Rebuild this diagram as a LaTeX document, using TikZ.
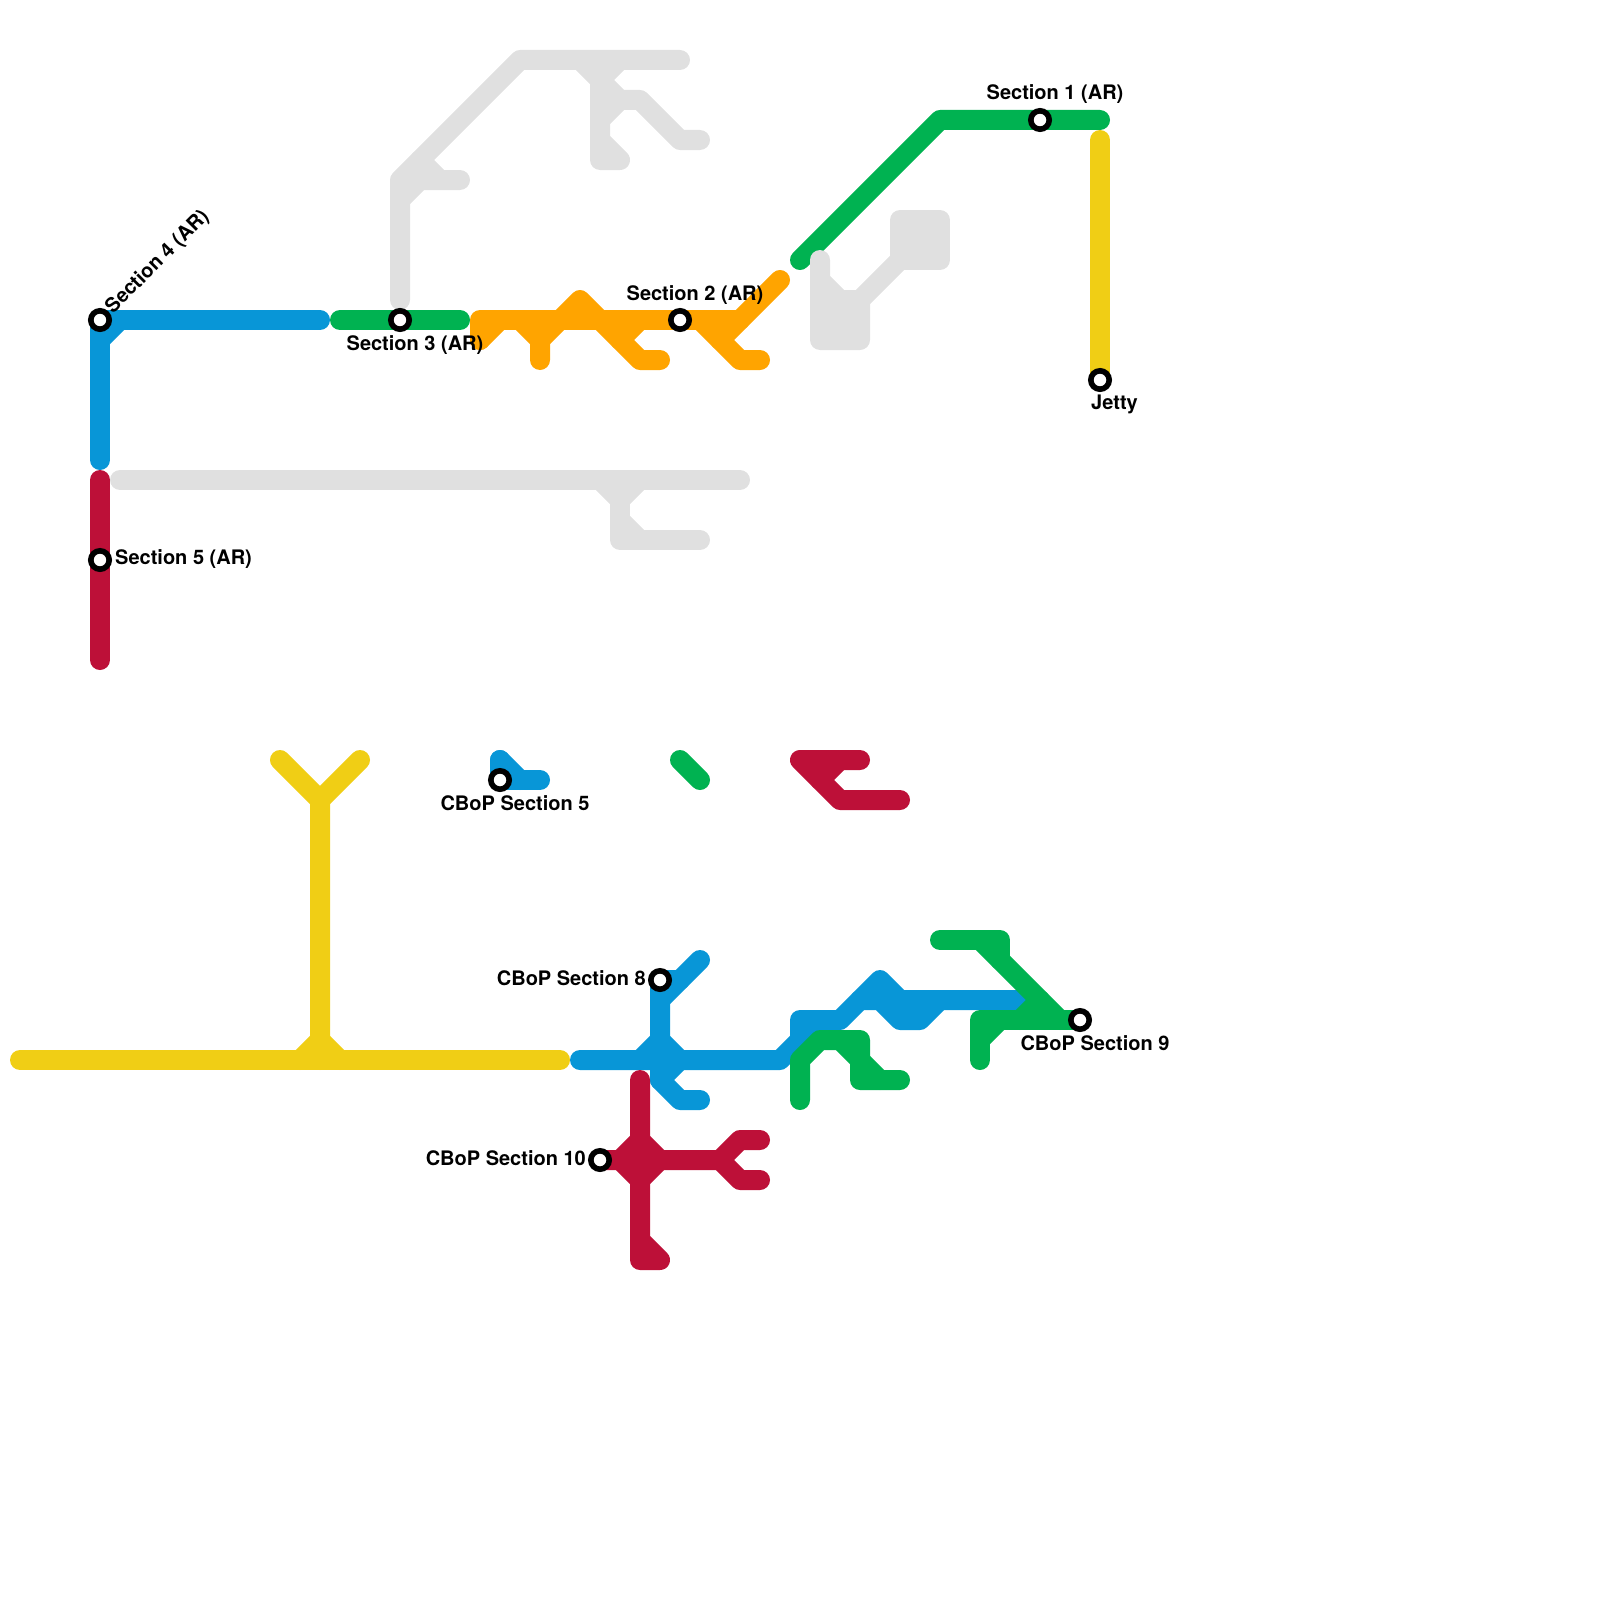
\documentclass[tikz,border=0pt]{standalone}
\usepackage{fontspec}
\setmainfont{TeX Gyre Heros}
\definecolor{mblue}{HTML}{0896D7}
\definecolor{mgreen}{HTML}{00B251}
\definecolor{mred}{HTML}{BD1038}
\definecolor{myellow}{HTML}{F0CE15}
\definecolor{morange}{HTML}{FFA400}
\definecolor{mgrey}{HTML}{E0E0E0}
\tikzset{
  rail/.style={line width=20pt,line cap=round,line join=round},
  bluerail/.style={rail,draw=mblue},
  greenrail/.style={rail,draw=mgreen},
  redrail/.style={rail,draw=mred},
  yellowrail/.style={rail,draw=myellow},
  orangerail/.style={rail,draw=morange},
  greyrail/.style={rail,draw=mgrey},
  stop/.style={circle,draw=black,fill=white,line width=5.6pt,minimum size=18.4pt,inner sep=0pt,outer sep=0pt},
  lab/.style={font=\fontsize{20}{22}\selectfont\bfseries,inner sep=0pt,text=black}
}
\begin{document}
\begin{tikzpicture}[x=20pt,y=-20pt]
\useasboundingbox (0,0) rectangle (80,80);
% yellow
\draw[yellowrail] (1,53) -- (28,53);
\draw[yellowrail] (14,38) -- (16,40) -- (16,53);
\draw[yellowrail] (18,38) -- (16,40);
\draw[yellowrail] (15,53) -- (16,52) -- (17,53);
\draw[yellowrail] (55,7) -- (55,19);
% blue
\draw[bluerail] (16,16) -- (5,16) -- (5,23);
\draw[bluerail] (6,16) -- (5,17);
\draw[bluerail] (25,38) -- (25,39) -- (27,39);
\draw[bluerail] (25,38) -- (26,39);
\draw[bluerail] (29,53) -- (39,53) -- (41,51);
\draw[bluerail] (40,52) -- (40,51) -- (42,51) -- (44,49) -- (45,50) -- (51,50);
\draw[bluerail] (43,50) -- (44,50) -- (45,51) -- (46,51) -- (47,50);
\draw[bluerail] (35,48) -- (33,50);
\draw[bluerail] (34,49) -- (33,49) -- (33,54) -- (34,55) -- (35,55);
\draw[bluerail] (32,53) -- (33,52) -- (34,53) -- (33,54);
% green
\draw[greenrail] (17,16) -- (23,16);
\draw[greenrail] (40,13) -- (47,6) -- (55,6);
\draw[greenrail] (34,38) -- (35,39);
\draw[greenrail] (40,55) -- (40,53) -- (41,52) -- (43,52) -- (43,54) -- (45,54);
\draw[greenrail] (42,52) -- (44,54);
\draw[greenrail] (47,47) -- (50,47) -- (50,48);
\draw[greenrail] (49,47) -- (53,51);
\draw[greenrail] (49,53) -- (49,51) -- (54,51);
\draw[greenrail] (49,52) -- (50,51);
\draw[greenrail] (51,51) -- (52,50);
% red
\draw[redrail] (5,24) -- (5,33);
\draw[redrail] (43,38) -- (40,38) -- (42,40) -- (45,40);
\draw[redrail] (42,38) -- (41,39);
\draw[redrail] (32,54) -- (32,63) -- (33,63) -- (32,62);
\draw[redrail] (30,58) -- (36,58) -- (37,57) -- (38,57);
\draw[redrail] (36,58) -- (37,59) -- (38,59);
\draw[redrail,fill=mred] (31,58) -- (32,57) -- (33,58) -- (32,59) -- cycle;
% orange
\draw[orangerail] (24,17) -- (24,16) -- (37,16);
\draw[orangerail] (24,17) -- (25,16);
\draw[orangerail] (26,16) -- (27,17) -- (27,18);
\draw[orangerail] (27,17) -- (28,16) -- (29,15) -- (30,16) -- (32,18) -- (33,18);
\draw[orangerail] (32,16) -- (31,17);
\draw[orangerail] (35,16) -- (37,18) -- (38,18);
\draw[orangerail] (39,14) -- (36,17);
% grey
\draw[greyrail] (20,15) -- (20,9) -- (26,3) -- (34,3);
\draw[greyrail] (20,10) -- (21,9) -- (23,9);
\draw[greyrail] (21,8) -- (22,9);
\draw[greyrail] (29,3) -- (30,4) -- (31,3);
\draw[greyrail] (30,4) -- (30,8) -- (31,8) -- (30,7);
\draw[greyrail] (30,4) -- (31,5) -- (32,5) -- (34,7) -- (35,7);
\draw[greyrail] (30,6) -- (31,5);
\draw[greyrail] (6,24) -- (37,24);
\draw[greyrail] (30,24) -- (31,25) -- (32,24);
\draw[greyrail] (31,25) -- (31,27) -- (35,27);
\draw[greyrail] (31,26) -- (32,27);
\draw[greyrail,fill=mgrey] (41,13) -- (41,17) -- (43,17) -- (43,15) -- (42,15) -- (41,14) -- cycle;
\draw[greyrail] (43,15) -- (45,13);
\draw[greyrail,fill=mgrey] (45,11) rectangle (47,13);
% stations
\node[stop] (s4) at (5,16) {};
\node[stop] (s5) at (5,28) {};
\node[stop] (s3) at (20,16) {};
\node[stop] (s2) at (34,16) {};
\node[stop] (s1) at (52,6) {};
\node[stop] (jetty) at (55,19) {};
\node[stop] (c5) at (25,39) {};
\node[stop] (c8) at (33,49) {};
\node[stop] (c9) at (54,51) {};
\node[stop] (c10) at (30,58) {};
% labels
\node[lab,rotate=45,anchor=base west] (l4) at (5.65,15.72) {Section 4 (AR)};
\node[lab,anchor=west] (l5) at (5.75,27.95) {Section 5 (AR)};
\node[lab] (l3) at (20.75,17.25) {Section 3 (AR)};
\node[lab] (l2) at (34.75,14.75) {Section 2 (AR)};
\node[lab] (l1) at (52.75,4.72) {Section 1 (AR)};
\node[lab,anchor=west] (lj) at (54.55,20.2) {Jetty};
\node[lab] (lc5) at (25.75,40.15) {CBoP Section 5};
\node[lab,anchor=east] (lc8) at (32.3,48.9) {CBoP Section 8};
\node[lab] (lc9) at (54.75,52.15) {CBoP Section 9};
\node[lab,anchor=east] (lc10) at (29.3,57.9) {CBoP Section 10};
\end{tikzpicture}
\end{document}
